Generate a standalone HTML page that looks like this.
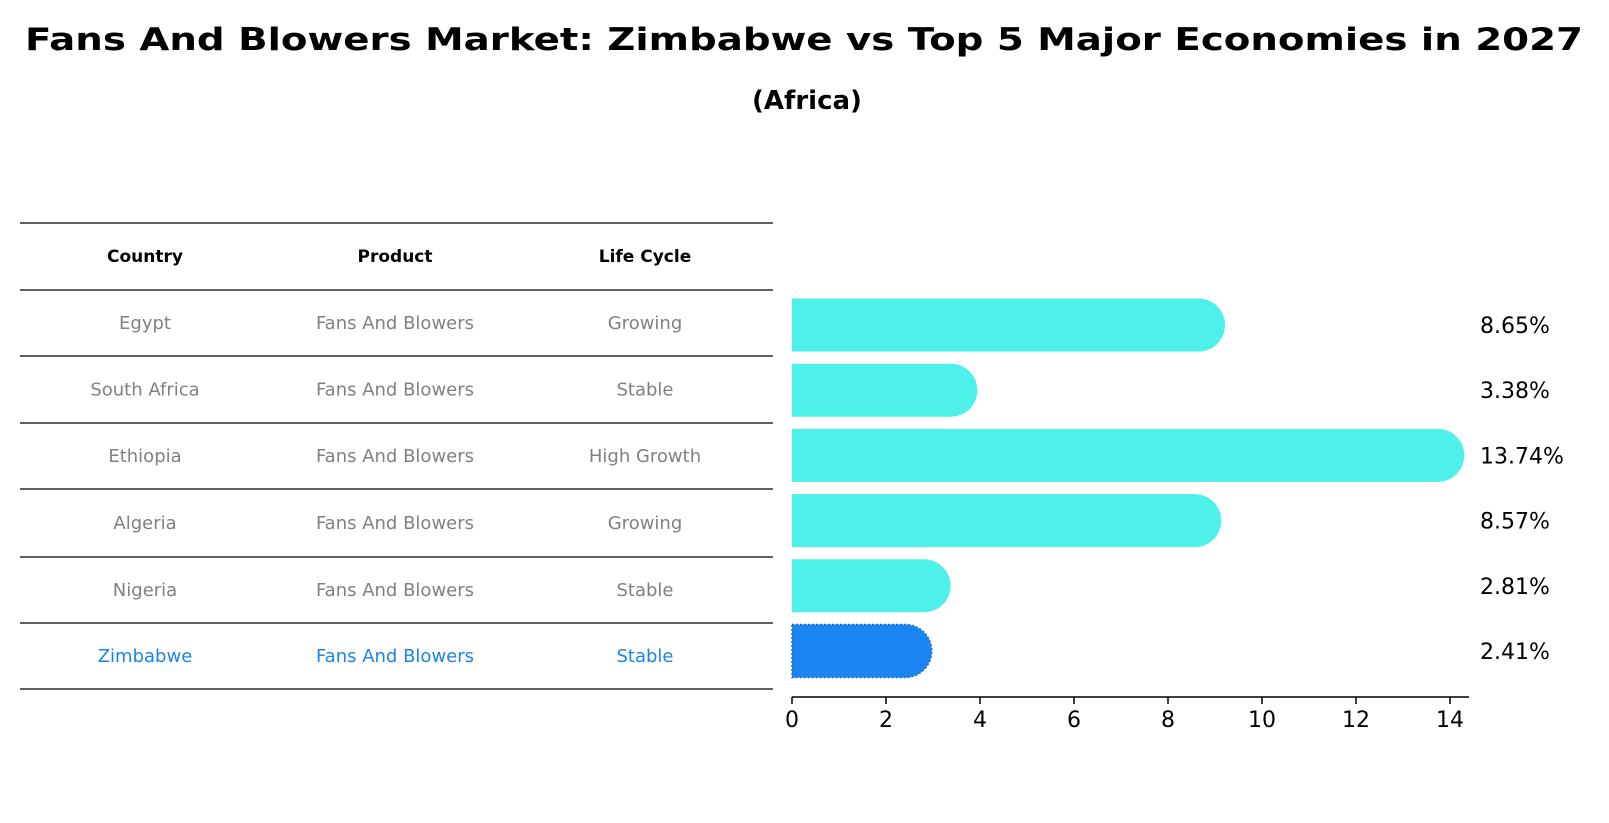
<!DOCTYPE html>
<html><head><meta charset="utf-8"><style>
body{margin:0;background:#fff;}
svg{display:block;font-family:"DejaVu Sans","Liberation Sans",sans-serif;}
</style></head><body>
<svg id="chart" width="1609" height="823">
<text x="804" y="50" text-anchor="middle" font-size="31" font-weight="bold" textLength="1558" lengthAdjust="spacingAndGlyphs">Fans And Blowers Market: Zimbabwe vs Top 5 Major Economies in 2027</text>
<text x="807" y="109" text-anchor="middle" font-size="26" font-weight="bold">(Africa)</text>
<g id="table"></g>
<g id="bars"></g>
</svg>
<script>
const countries=["Egypt","South Africa","Ethiopia","Algeria","Nigeria","Zimbabwe"];
const products=["Fans And Blowers","Fans And Blowers","Fans And Blowers","Fans And Blowers","Fans And Blowers","Fans And Blowers"];
const lifeCycles=["Growing","Stable","High Growth","Growing","Stable","Stable"];
const growth=[8.65,3.38,13.74,8.57,2.81,2.41];
const valueLabels=["8.65%","3.38%","13.74%","8.57%","2.81%","2.41%"];
const xTicks=[0,2,4,6,8,10,12,14];

const NS="http://www.w3.org/2000/svg";
function mk(tag,attrs,parent){const e=document.createElementNS(NS,tag);for(const k in attrs)e.setAttribute(k,attrs[k]);parent.appendChild(e);return e;}
const x0=792,pxPerUnit=47;
const xs=v=>x0+v*pxPerUnit;
const rowY0=325,rowStep=65.2;
const ys=i=>rowY0+i*rowStep;

// table
const tb=document.getElementById('table');
const lineYs=[223,290,356,423,489,557,623,689];
lineYs.forEach((y,i)=>{const l=mk('line',{x1:20,x2:773,y1:y,y2:y,stroke:'#000','stroke-width':1.2},tb);

});
const colX=[145,395,645];
["Country","Product","Life Cycle"].forEach((h,j)=>{const t=mk('text',{x:colX[j],y:262,'text-anchor':'middle','font-size':17,'font-weight':'bold'},tb);t.textContent=h;

});
countries.forEach((c,i)=>{
  const col=c==="Zimbabwe"?'#1a85e8':'#808080';
  const y=(lineYs[i+1]+lineYs[i+2])/2+6;
  [c,products[i],lifeCycles[i]].forEach((v,j)=>{const t=mk('text',{x:colX[j],y:y,'text-anchor':'middle','font-size':18,fill:col},tb);t.textContent=v;
  
  });
});

// bars
const g=document.getElementById('bars');
const h=53,r=26.5;
growth.forEach((v,i)=>{
  const zim=countries[i]==="Zimbabwe";
  const cy=ys(i),xe=xs(v);
  const d=`M${x0},${cy-h/2} L${xe},${cy-h/2} A${r},${r} 0 0 1 ${xe},${cy+h/2} L${x0},${cy+h/2} Z`;
  const p=mk('path',{d:d,fill:zim?'#1a85f0':'#4ef0ea'},g);
  if(zim){p.setAttribute('stroke','#1a6fd8');p.setAttribute('stroke-dasharray','2 2');p.setAttribute('stroke-width','1.5');}
  
  
  const t=mk('text',{x:1480,y:cy+8,'font-size':22},g);t.textContent=valueLabels[i];
  
  
});
const ax=mk('line',{x1:x0,x2:1469,y1:697,y2:697,stroke:'#000','stroke-width':1.5},g);


xTicks.forEach(v=>{
  const tk=mk('line',{x1:xs(v),x2:xs(v),y1:697,y2:704,stroke:'#000','stroke-width':1.5},g);
  
  
  const t=mk('text',{x:xs(v),y:727,'text-anchor':'middle','font-size':22},g);t.textContent=v;
  
  
});
</script>
</body></html>
